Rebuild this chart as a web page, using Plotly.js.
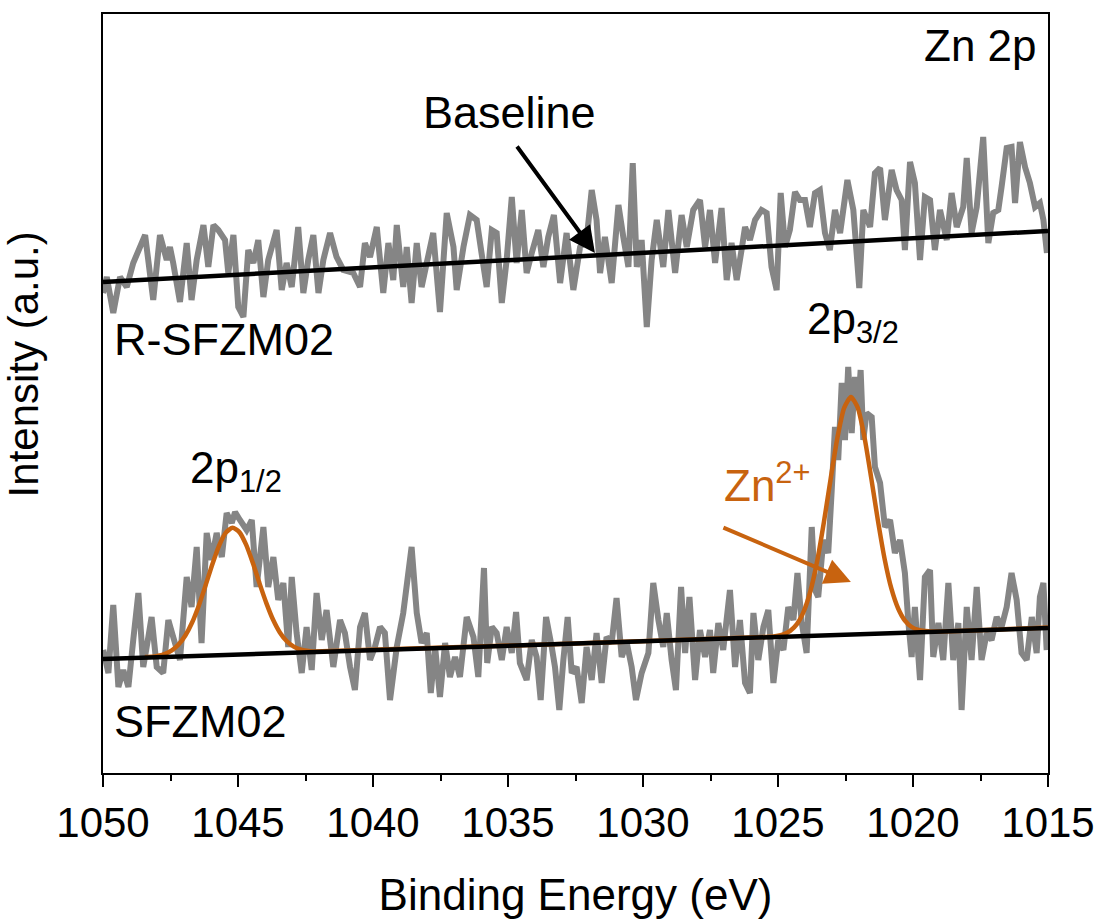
<!DOCTYPE html>
<html>
<head>
<meta charset="utf-8">
<script src="https://cdn.plot.ly/plotly-3.0.1.min.js"></script>
<style>html,body{margin:0;padding:0;background:#fff;}#chart{width:1107px;height:924px;}</style>
</head>
<body>
<div id="chart"></div>
<script>
// Binding energy (eV) and intensity (a.u.)
const upperE = [1050.00,1049.86,1049.62,1049.37,1049.12,1048.88,1048.44,1048.14,1047.89,1047.64,1047.52,1047.40,1047.15,1046.90,1046.72,1046.53,1046.28,1046.10,1045.91,1045.73,1045.48,1045.36,1045.17,1044.99,1044.80,1044.62,1044.43,1044.25,1044.06,1043.88,1043.57,1043.38,1043.20,1043.01,1042.77,1042.58,1042.40,1042.21,1042.02,1041.84,1041.59,1041.35,1041.10,1040.73,1040.48,1040.30,1040.11,1039.86,1039.62,1039.43,1039.25,1039.12,
1038.88,1038.75,1038.57,1038.38,1038.20,1038.01,1037.77,1037.52,1037.27,1037.02,1036.90,1036.65,1036.41,1036.16,1035.98,1035.79,1035.60,1035.42,1035.23,1035.05,1034.86,1034.68,1034.49,1034.31,1034.12,1033.88,1033.69,1033.51,1033.30,1033.07,1032.83,1032.58,1032.33,1032.09,1031.90,1031.72,1031.59,1031.41,1031.16,1030.91,1030.73,1030.54,1030.38,1030.23,1030.05,1029.86,1029.68,1029.49,1029.25,1029.06,1028.81,1028.57,1028.38,1028.14,
1027.89,1027.70,1027.52,1027.33,1027.09,1026.90,1026.72,1026.53,1026.35,1026.22,1026.04,1025.85,1025.61,1025.42,1025.24,1025.05,1024.90,1024.74,1024.56,1024.37,1024.19,1024.00,1023.82,1023.63,1023.45,1023.26,1023.08,1022.89,1022.70,1022.43,1022.21,1021.99,1021.84,1021.59,1021.41,1021.22,1021.04,1020.79,1020.61,1020.42,1020.30,1020.11,1019.93,1019.74,1019.56,1019.37,1019.19,1019.00,1018.75,1018.57,1018.38,1018.14,1018.01,1017.83,1017.64,1017.40,1017.21,1017.03,1016.84,1016.72,1016.53,1016.35,1016.22,1016.04,1015.85,1015.67,1015.48,1015.30,1015.17,1015.04];
const upperI = [480,496,460,496,486,510,538,473,538,513,526,510,471,530,473,513,548,506,548,543,533,500,538,466,456,523,510,533,476,513,543,483,510,486,546,480,513,538,480,513,540,516,503,500,486,530,516,546,480,530,493,548,
486,526,470,530,486,510,540,461,560,526,483,526,558,553,520,486,543,540,470,513,576,510,563,500,520,543,506,536,558,490,540,483,526,533,583,553,500,536,490,568,536,506,610,506,533,446,513,553,506,563,500,558,526,563,
573,526,563,510,565,493,530,493,523,546,533,553,563,560,506,483,580,526,543,581,573,573,546,580,583,540,523,563,540,593,563,485,563,546,600,605,553,603,583,573,523,611,590,513,576,573,523,563,533,580,546,566,615,540,566,636,530,560,563,586,625,626,570,631,606,590,566,570,553,520];

const lowerE = [1049.99,1049.80,1049.62,1049.43,1049.25,1049.06,1048.88,1048.69,1048.51,1048.32,1048.20,1048.01,1047.77,1047.58,1047.40,1047.15,1046.90,1046.72,1046.53,1046.35,1046.16,1045.98,1045.79,1045.60,1045.42,1045.23,1045.11,1044.93,1044.68,1044.49,1044.31,1044.06,1043.88,1043.69,1043.51,1043.32,1043.14,1043.01,1042.83,1042.64,1042.46,1042.27,1042.09,1041.90,1041.72,1041.47,1041.22,1041.04,1040.85,1040.67,1040.48,1040.30,1040.11,1039.93,1039.74,1039.56,1039.37,1039.12,
1038.88,1038.57,1038.38,1038.20,1038.01,1037.86,1037.70,1037.52,1037.33,1037.15,1036.96,1036.78,1036.53,1036.28,1036.10,1035.89,1035.77,1035.60,1035.42,1035.23,1035.05,1034.86,1034.70,1034.56,1034.31,1034.12,1033.94,1033.79,1033.59,1033.38,1033.26,1033.10,1032.95,1032.79,1032.64,1032.46,1032.27,1032.09,1031.90,1031.72,1031.53,1031.35,1031.16,1030.98,1030.79,1030.60,1030.42,1030.26,1030.05,1029.80,1029.62,1029.43,1029.25,1029.12,1028.94,1028.78,1028.59,1028.44,1028.28,1028.07,
1027.89,1027.70,1027.52,1027.40,1027.21,1027.03,1026.78,1026.59,1026.41,1026.22,1026.04,1025.91,1025.73,1025.54,1025.36,1025.17,1024.99,1024.80,1024.62,1024.43,1024.28,1024.12,1023.94,1023.75,1023.63,1023.51,1023.32,1023.14,1023.01,1022.89,1022.77,1022.64,1022.52,1022.40,1022.27,1022.15,1022.03,1021.94,1021.84,1021.72,1021.53,1021.41,1021.22,1021.04,1020.85,1020.67,1020.48,1020.30,1020.17,1020.05,1019.93,1019.74,1019.56,1019.37,1019.25,1019.06,1018.88,1018.69,1018.51,1018.32,1018.20,1018.01,1017.83,1017.64,1017.46,1017.27,1017.09,1016.90,1016.72,1016.53,1016.35,1016.16,1015.98,1015.79,1015.60,1015.42,1015.30,1015.17,1015.05];
const lowerI = [123,100,168,86,103,86,133,180,106,136,156,106,100,153,136,113,196,166,226,130,240,213,240,216,260,250,261,253,243,253,186,246,186,216,173,190,126,196,140,100,146,103,180,133,163,106,153,140,106,83,146,160,113,126,146,140,73,126,
160,226,160,130,140,80,126,76,130,96,116,96,156,136,96,205,110,146,140,113,146,120,161,110,93,133,116,73,156,126,106,63,113,156,100,106,70,126,93,140,90,136,130,175,116,130,106,73,100,120,190,153,126,160,113,83,186,120,176,93,
143,116,143,100,150,123,183,106,153,90,80,160,113,146,163,90,133,123,166,153,200,150,120,246,183,176,233,220,283,346,313,390,333,406,340,396,363,403,333,360,356,306,290,246,253,220,233,200,150,116,166,93,196,203,116,150,113,190,113,150,63,166,113,186,113,140,133,156,146,166,200,173,120,113,156,120,176,190,123];

// Fitted Zn2+ envelope (orange)
const fitE = [1048.45,1048.2,1047.95,1047.7,1047.45,1047.2,1046.95,1046.7,1046.45,1046.2,1045.95,1045.7,1045.45,1045.2,1044.95,1044.7,1044.45,1044.2,1043.95,1043.7,1043.45,1043.2,1042.95,1042.7,1042.45,1042.2,1025.55,1025.3,1025.05,1024.8,1024.55,1024.3,1024.05,1023.8,1023.55,1023.3,1023.05,1022.8,1022.55,1022.3,1022.05,1021.8,1021.55,1021.3,1021.05,1020.8,1020.55,1020.3,1020.05,1019.8,1019.55,1019.3,1015.0];
const fitI = [116.0,116.2,117.3,119.2,122.7,128.5,137.5,150.5,167.6,187.7,208.7,227.4,240.4,245.3,240.9,228.3,210.0,189.4,169.9,153.2,140.6,132.0,126.6,123.7,122.2,121.5,136.0,136.2,137.0,138.6,142.1,148.9,161.4,181.9,211.7,250.8,294.2,335.2,365.1,376.0,365.6,336.1,295.5,252.5,213.9,184.3,164.5,152.4,146.0,143.0,141.9,141.5,145.5];

// Linear baselines
const baseUpE = [1050, 1015];
const baseUpI = [491, 542];
const baseLowE = [1050, 1015];
const baseLowI = [114, 145];

const gray = '#858585';
const orange = '#c8630f';

const traces = [
  {x: upperE, y: upperI, mode: 'lines', line: {color: gray, width: 6, simplify: false}, name: 'R-SFZM02'},
  {x: lowerE, y: lowerI, mode: 'lines', line: {color: gray, width: 6, simplify: false}, name: 'SFZM02'},
  {x: fitE, y: fitI, mode: 'lines', line: {color: orange, width: 4.5, shape: 'spline', smoothing: 0.6}, name: 'Zn2+ fit'},
  {x: baseUpE, y: baseUpI, mode: 'lines', line: {color: 'black', width: 4.5}, name: 'Baseline'},
  {x: baseLowE, y: baseLowI, mode: 'lines', line: {color: 'black', width: 4.5}, name: 'Baseline'}
];

const font = 'Liberation Sans, Arial, Helvetica, sans-serif';

const layout = {
  width: 1107, height: 924,
  margin: {l: 103, r: 59, t: 14, b: 151},
  paper_bgcolor: 'white', plot_bgcolor: 'white',
  showlegend: false,
  font: {family: font, color: 'black'},
  xaxis: {
    range: [1050, 1015], tick0: 1015, dtick: 5,
    ticks: 'outside', ticklen: 12, tickwidth: 2, tickcolor: 'black',
    minor: {dtick: 2.5, ticks: 'outside', ticklen: 6, tickwidth: 2, tickcolor: 'black', showgrid: false},
    showline: true, linecolor: 'black', linewidth: 2, mirror: true,
    showgrid: false, zeroline: false,
    tickfont: {size: 42, family: font, color: 'black'},
    ticklabelstandoff: 0,
    title: {text: 'Binding Energy (eV)', font: {size: 44, family: font, color: 'black'}, standoff: 34}
  },
  yaxis: {
    range: [0, 759],
    showticklabels: false, ticks: '',
    showline: true, linecolor: 'black', linewidth: 2, mirror: true,
    showgrid: false, zeroline: false,
    title: {text: '\u200B\u00A0\u00A0\u00A0\u00A0\u00A0Intensity (a.u.)', font: {size: 42, family: font, color: 'black'}, standoff: 50}
  },
  annotations: [
    {x: 1015.33, y: 728, xref: 'x', yref: 'y', text: 'Zn 2p', showarrow: false, xanchor: 'right', yanchor: 'middle', font: {size: 44, color: 'black'}},
    {x: 1034.93, y: 661, xref: 'x', yref: 'y', text: 'Baseline', showarrow: false, xanchor: 'center', yanchor: 'middle', font: {size: 45, color: 'black'}},
    {x: 1049.67, y: 434, xref: 'x', yref: 'y', text: 'R-SFZM02', showarrow: false, xanchor: 'left', yanchor: 'middle', font: {size: 45, color: 'black'}},
    {x: 1049.67, y: 52, xref: 'x', yref: 'y', text: 'SFZM02', showarrow: false, xanchor: 'left', yanchor: 'middle', font: {size: 45, color: 'black'}},
    {x: 1046.85, y: 302, xref: 'x', yref: 'y', text: '2p<sub>1/2</sub>', showarrow: false, xanchor: 'left', yanchor: 'middle', font: {size: 44, color: 'black'}},
    {x: 1024.0, y: 451, xref: 'x', yref: 'y', text: '2p<sub>3/2</sub>', showarrow: false, xanchor: 'left', yanchor: 'middle', font: {size: 44, color: 'black'}},
    {x: 1027.07, y: 291, xref: 'x', yref: 'y', text: 'Zn<sup>2+</sup>', showarrow: false, xanchor: 'left', yanchor: 'middle', font: {size: 44, color: orange}},
    {x: 1031.78, y: 520, xref: 'x', yref: 'y', ax: -79, ay: -108, text: '', showarrow: true, arrowhead: 2, arrowsize: 1.3, arrowwidth: 4, arrowcolor: 'black', standoff: 0},
    {x: 1022.3, y: 191, xref: 'x', yref: 'y', ax: -129, ay: -55, text: '', showarrow: true, arrowhead: 2, arrowsize: 1.3, arrowwidth: 4, arrowcolor: orange, standoff: 0}
  ]
};

Plotly.newPlot('chart', traces, layout, {displayModeBar: false, staticPlot: true});
</script>
</body>
</html>
